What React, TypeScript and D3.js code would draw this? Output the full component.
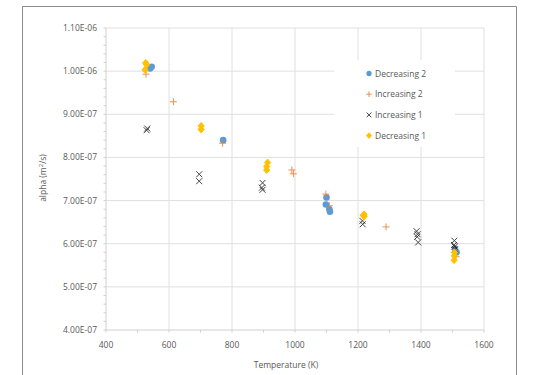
import React from "react";
import * as d3 from "d3";

const dec2X = [540, 545, 772, 1100, 1098, 1109, 1111, 1513, 1508];
const dec2Y = [1.006e-6, 1.010e-6, 8.40e-7, 7.07e-7, 6.91e-7, 6.80e-7, 6.74e-7, 5.80e-7, 5.88e-7];

const inc2X = [527, 614, 770, 990, 995, 1098, 1109, 1217, 1289, 1511];
const inc2Y = [9.93e-7, 9.29e-7, 8.33e-7, 7.71e-7, 7.62e-7, 7.15e-7, 6.88e-7, 6.66e-7, 6.39e-7, 5.70e-7];

const inc1X = [529, 531, 696, 696, 897, 895, 897, 1214, 1215, 1386, 1388, 1391, 1389, 1506, 1507, 1508, 1505];
const inc1Y = [8.63e-7, 8.67e-7, 7.61e-7, 7.45e-7, 7.41e-7, 7.30e-7, 7.25e-7, 6.53e-7, 6.45e-7, 6.29e-7, 6.16e-7, 6.03e-7, 6.22e-7, 6.07e-7, 5.93e-7, 5.87e-7, 5.97e-7];

const dec1X = [526, 529, 524, 702, 702, 913, 910, 910, 1219, 1219, 1506, 1506, 1505];
const dec1Y = [1.019e-6, 1.015e-6, 1.003e-6, 8.73e-7, 8.65e-7, 7.88e-7, 7.79e-7, 7.71e-7, 6.68e-7, 6.63e-7, 5.80e-7, 5.72e-7, 5.62e-7];

const xTicks = [400, 600, 800, 1000, 1200, 1400, 1600];
const yTicks = [4e-7, 5e-7, 6e-7, 7e-7, 8e-7, 9e-7, 1e-6, 1.1e-6];
const yTickLabels = ["4.00E-07", "5.00E-07", "6.00E-07", "7.00E-07", "8.00E-07", "9.00E-07", "1.00E-06", "1.10E-06"];
const legendNames = ["Decreasing 2", "Increasing 2", "Increasing 1", "Decreasing 1"];

const BLUE = "#5B9BD5";
const ORANGE = "#ED7D31";
const BLACK = "#262626";
const YELLOW = "#FFC000";
const FONT = "Open Sans, Liberation Sans, sans-serif";

function Marker({ kind, x, y, s = 1 }: { kind: number; x: number; y: number; s?: number }) {
  if (kind === 0) return <circle cx={x} cy={y} r={3.3 * s} fill={BLUE} />;
  if (kind === 1)
    return (
      <g stroke={ORANGE} strokeWidth={1} opacity={0.85}>
        <line x1={x - 3.5 * s} x2={x + 3.5 * s} y1={y} y2={y} />
        <line x1={x} x2={x} y1={y - 3.5 * s} y2={y + 3.5 * s} />
      </g>
    );
  if (kind === 2)
    return (
      <g stroke={BLACK} strokeWidth={1} opacity={0.85}>
        <line x1={x - 3 * s} x2={x + 3 * s} y1={y - 3 * s} y2={y + 3 * s} />
        <line x1={x - 3 * s} x2={x + 3 * s} y1={y + 3 * s} y2={y - 3 * s} />
      </g>
    );
  return (
    <path
      d={`M${x},${y - 3.6 * s}L${x + 3.2 * s},${y}L${x},${y + 3.6 * s}L${x - 3.2 * s},${y}Z`}
      fill={YELLOW}
      stroke={YELLOW}
      strokeWidth={0.8}
      strokeLinejoin="round"
    />
  );
}

export default function App() {
  const W = 544, H = 375;
  const x = d3.scaleLinear().domain([400, 1600]).range([106, 484]);
  const y = d3.scaleLinear().domain([4e-7, 1.1e-6]).range([330, 28]);
  const xMinor = d3.range(400, 1601, 100);
  const yMinor = d3.range(0, 36).map((i) => 4e-7 + i * 2e-8);
  const series = [
    { xs: dec2X, ys: dec2Y },
    { xs: inc2X, ys: inc2Y },
    { xs: inc1X, ys: inc1Y },
    { xs: dec1X, ys: dec1Y },
  ];
  const drawOrder = [0, 1, 2, 3];
  return (
    <svg width={W} height={H} style={{ position: "absolute", left: 0, top: 0 }}>
      <rect x={0} y={0} width={W} height={H} fill="#fff" />
      <path d={`M22.5,${H}V6.5H516.5V${H}`} fill="none" stroke="#8c8c8c" strokeWidth={1} />
      {xTicks.slice(1).map((t) => (
        <line key={"gx" + t} x1={x(t)} x2={x(t)} y1={y(1.1e-6)} y2={y(4e-7)} stroke="#e0e0e0" />
      ))}
      {yTicks.slice(1).map((t) => (
        <line key={"gy" + t} x1={x(400)} x2={x(1600)} y1={y(t)} y2={y(t)} stroke="#e0e0e0" />
      ))}
      <line x1={x(400)} x2={x(400)} y1={y(1.1e-6)} y2={y(4e-7)} stroke="#d0d0d0" />
      <line x1={x(400)} x2={x(1600)} y1={y(4e-7)} y2={y(4e-7)} stroke="#d0d0d0" />
      {xMinor.map((t) => (
        <line key={"mx" + t} x1={x(t)} x2={x(t)} y1={y(4e-7)} y2={y(4e-7) + 2.5} stroke="#d0d0d0" />
      ))}
      {yMinor.map((t, i) => (
        <line key={"my" + i} x1={x(400) - 2.5} x2={x(400)} y1={y(t)} y2={y(t)} stroke="#d0d0d0" />
      ))}
      {xTicks.map((t) => (
        <text key={"xl" + t} x={x(t)} y={348} textAnchor="middle" fontFamily={FONT} fontSize={8.5} fill="#595959">
          {t}
        </text>
      ))}
      {yTicks.map((t, i) => (
        <text key={"yl" + i} x={97} y={y(t) + 3} textAnchor="end" fontFamily={FONT} fontSize={8.5} fill="#595959">
          {yTickLabels[i]}
        </text>
      ))}
      <text x={286} y={368} textAnchor="middle" fontFamily={FONT} fontSize={8.5} fill="#595959">
        Temperature (K)
      </text>
      <text transform="translate(46,178) rotate(-90)" textAnchor="middle" fontFamily={FONT} fontSize={8.5} fill="#595959">
        alpha (m<tspan fontSize={6} dy={-3}>2</tspan><tspan dy={3}>/s)</tspan>
      </text>
      <rect x={334} y={60} width={121} height={87} fill="#fff" />
      {drawOrder.map((k) =>
        series[k].xs.map((v, i) => <Marker key={k + "-" + i} kind={k} x={x(v)} y={y(series[k].ys[i])} />)
      )}
      {legendNames.map((n, i) => (
        <g key={n}>
          <Marker kind={i} x={369} y={73.5 + i * 20.7} s={0.8} />
          <text x={375} y={76.5 + i * 20.7} fontFamily={FONT} fontSize={8.5} fill="#595959">
            {n}
          </text>
        </g>
      ))}
    </svg>
  );
}
